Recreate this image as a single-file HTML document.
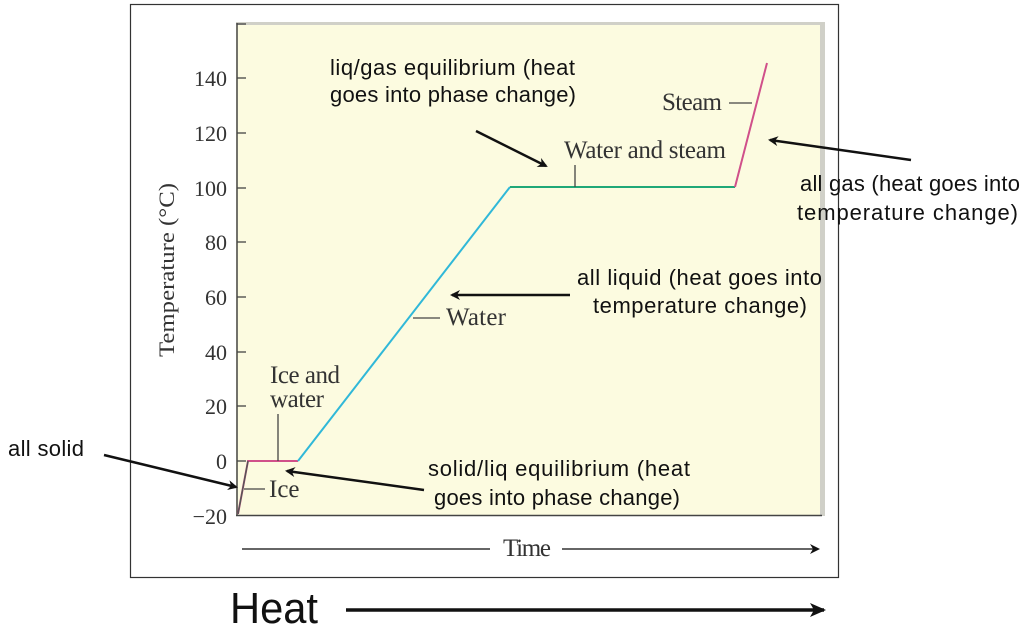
<!DOCTYPE html><html><head><style>body{margin:0;background:#fff}svg{display:block}</style></head><body>
<svg width="1024" height="632" viewBox="0 0 1024 632" xmlns="http://www.w3.org/2000/svg">
<defs><marker id="a" markerWidth="10" markerHeight="10" refX="8" refY="5" orient="auto" markerUnits="userSpaceOnUse"><path d="M0,0 L10,5 L0,10 L3,5 Z" fill="#111"/></marker>
<marker id="b" markerWidth="16" markerHeight="14" refX="14" refY="7" orient="auto" markerUnits="userSpaceOnUse"><path d="M0,0 L16,7 L0,14 L4,7 Z" fill="#111"/></marker></defs>
<rect x="130.5" y="4.5" width="708" height="573" fill="#fff" stroke="#333" stroke-width="1.2"/>
<rect x="236" y="22" width="589" height="494" fill="#d0d0c8"/>
<rect x="236" y="25" width="584" height="491" fill="#fcfbe0"/>
<line x1="237" y1="23" x2="237" y2="516" stroke="#444" stroke-width="1.5"/>
<line x1="236" y1="515.5" x2="822" y2="515.5" stroke="#444" stroke-width="1.5"/>
<g stroke="#444" stroke-width="1.3">
<line x1="237" y1="24" x2="246" y2="24"/>
<line x1="237" y1="78" x2="246" y2="78"/><line x1="237" y1="133" x2="246" y2="133"/><line x1="237" y1="188" x2="246" y2="188"/><line x1="237" y1="242" x2="246" y2="242"/><line x1="237" y1="297" x2="246" y2="297"/><line x1="237" y1="352" x2="246" y2="352"/><line x1="237" y1="406" x2="246" y2="406"/><line x1="237" y1="461" x2="246" y2="461"/></g>
<g font-family="Liberation Serif,serif" font-size="22" fill="#333" text-anchor="end">
<text x="227" y="86">140</text><text x="227" y="141">120</text><text x="227" y="196">100</text><text x="227" y="250">80</text><text x="227" y="305">60</text><text x="227" y="360">40</text><text x="227" y="414">20</text><text x="227" y="469">0</text><text x="227" y="524">−20</text></g>
<text transform="translate(174,270) rotate(-90)" font-family="Liberation Serif,serif" font-size="22" fill="#333" text-anchor="middle" textLength="174" lengthAdjust="spacingAndGlyphs">Temperature (°C)</text>
<polyline points="238,514 248,461 298,461" fill="none" stroke="#d0508a" stroke-width="2"/>
<line x1="238" y1="514" x2="248" y2="461" stroke="#555" stroke-width="1.5"/>
<line x1="298" y1="461" x2="510" y2="187" stroke="#30b8d8" stroke-width="2"/>
<line x1="510" y1="187" x2="735" y2="187" stroke="#20a878" stroke-width="2"/>
<line x1="735" y1="187" x2="767" y2="63" stroke="#d0508a" stroke-width="2"/>
<g stroke="#444" stroke-width="1.3"><line x1="278" y1="414" x2="278" y2="461"/><line x1="244" y1="489" x2="265" y2="489"/><line x1="413" y1="318" x2="440" y2="318"/><line x1="575" y1="165" x2="575" y2="187"/><line x1="729" y1="103" x2="752" y2="103"/></g>
<g font-family="Liberation Serif,serif" font-size="25" fill="#333" lengthAdjust="spacingAndGlyphs">
<text x="270" y="383" textLength="70">Ice and</text><text x="270" y="407" textLength="54">water</text><text x="269" y="497">Ice</text><text x="446" y="325" textLength="60">Water</text><text x="564" y="158" textLength="162">Water and steam</text><text x="662" y="110" textLength="60">Steam</text>
<text x="503" y="556" textLength="48">Time</text></g>
<line x1="242" y1="549" x2="490" y2="549" stroke="#333" stroke-width="1.5"/>
<line x1="562" y1="549" x2="818" y2="549" stroke="#333" stroke-width="1.5" marker-end="url(#a)"/>
<g font-family="Liberation Sans,sans-serif" font-size="22" fill="#111" lengthAdjust="spacingAndGlyphs">
<text x="330" y="75" textLength="245">liq/gas equilibrium (heat</text><text x="330" y="102" textLength="246">goes into phase change)</text>
<text x="800" y="191" textLength="220">all gas (heat goes into</text><text x="797" y="220" textLength="221">temperature change)</text>
<text x="577" y="285" textLength="245">all liquid (heat goes into</text><text x="593" y="313" textLength="214">temperature change)</text>
<text x="8" y="456" textLength="76">all solid</text>
<text x="428" y="476" textLength="262">solid/liq equilibrium (heat</text><text x="434" y="505" textLength="246">goes into phase change)</text></g>
<text x="230" y="623" font-family="Liberation Sans,sans-serif" font-size="44" fill="#111" textLength="88" lengthAdjust="spacingAndGlyphs">Heat</text>
<g stroke="#111" stroke-width="2.5" fill="none">
<line x1="476" y1="131" x2="546" y2="166" marker-end="url(#a)"/>
<line x1="911" y1="160" x2="770" y2="140" marker-end="url(#a)"/>
<line x1="570" y1="295" x2="452" y2="295" marker-end="url(#a)"/>
<line x1="104" y1="455" x2="236" y2="487" marker-end="url(#a)"/>
<line x1="424" y1="490" x2="287" y2="471" marker-end="url(#a)"/>
<line x1="346" y1="610" x2="824" y2="610" stroke-width="3.5" marker-end="url(#b)"/>
</g>
</svg></body></html>
